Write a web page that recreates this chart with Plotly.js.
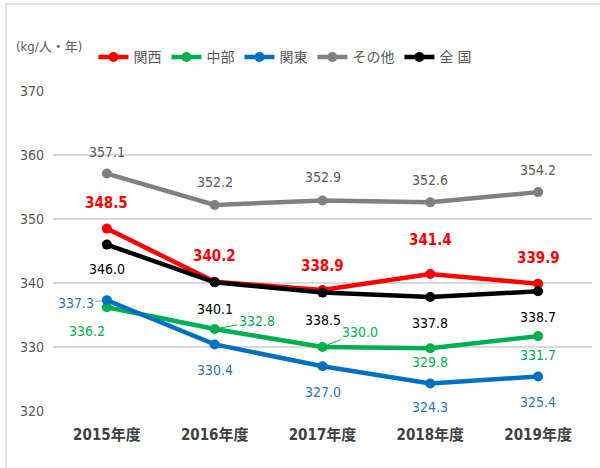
<!DOCTYPE html>
<html>
<head>
<meta charset="utf-8">
<script src="https://cdn.plot.ly/plotly-3.0.1.min.js"></script>
<style>html,body{margin:0;padding:0;background:#fff;}#chart{width:600px;height:468px;}</style>
</head>
<body>
<div id="chart"></div>
<script>
var years = ["2015年度", "2016年度", "2017年度", "2018年度", "2019年度"];
var kansai = [348.5, 340.2, 338.9, 341.4, 339.9];
var chubu = [336.2, 332.8, 330.0, 329.8, 331.7];
var kanto = [337.3, 330.4, 327.0, 324.3, 325.4];
var sonota = [357.1, 352.2, 352.9, 352.6, 354.2];
var zenkoku = [346.0, 340.1, 338.5, 337.8, 338.7];
var seriesNames = ["関西", "中部", "関東", "その他", "全 国"];
var yTicks = [320, 330, 340, 350, 360, 370];
var unitLabel = "(kg/人・年)";

var FONT = "'DejaVu Sans Condensed', 'Noto Sans CJK JP', sans-serif";
var series = [kansai, chubu, kanto, sonota, zenkoku];
var colors = ["#FF0000", "#00B050", "#0070C0", "#808080", "#000000"];
var labelColors = ["#FF0000", "#00B050", "#2E75B6", "#595959", "#000000"];

var traces = series.map(function (vals, i) {
  return {
    type: "scatter", mode: "lines+markers",
    x: years, y: vals, name: seriesNames[i],
    line: {color: colors[i], width: 4.5},
    marker: {color: colors[i], size: 10},
    hoverinfo: "none"
  };
});

// label offsets in pixels [dx, dy] per series per point (styling only)
var offsets = [
  [[0,-26],[0,-26],[0,-24],[0,-34],[0,-26]],
  [[-20,24],[42,-8],[37,-15],[0,14],[0,19]],
  [[-31,3],[0,26],[0,26],[0,24],[0,26]],
  [[0,-22],[0,-23],[0,-23],[0,-22],[0,-22]],
  [[0,24],[0,27],[0,27],[0,26],[0,26]]
];
var arrows = {"1-1": true, "1-2": true, "2-0": true};

var annotations = [];
series.forEach(function (vals, i) {
  vals.forEach(function (v, j) {
    var off = offsets[i][j];
    var key = i + "-" + j;
    var a = {
      xref: "x", yref: "y", x: years[j], y: v,
      text: v.toFixed(1),
      font: {family: FONT, size: 14, color: labelColors[i]},
      bgcolor: "rgba(0,0,0,0)"
    };
    if (i === 0) { a.text = "<b>" + v.toFixed(1) + "</b>"; a.font.size = 15; }
    if (arrows[key]) {
      a.showarrow = true; a.arrowhead = 0; a.arrowwidth = 1;
      a.arrowcolor = i === 2 ? "#A6A6A6" : "#00B050";
      a.ax = off[0]; a.ay = off[1]; a.standoff = 5;
    } else {
      a.showarrow = false; a.xshift = off[0]; a.yshift = -off[1];
    }
    annotations.push(a);
  });
});
annotations.push({
  xref: "paper", yref: "paper", x: -0.072, y: 1.138, xanchor: "left", yanchor: "middle",
  text: unitLabel, showarrow: false,
  font: {family: FONT, size: 13, color: "#595959"}
});

var layout = {
  width: 600, height: 468,
  margin: {l: 53, r: 8, t: 91, b: 57},
  paper_bgcolor: "#ffffff", plot_bgcolor: "#ffffff",
  showlegend: true,
  legend: {
    orientation: "h", x: 0.075, y: 1.105, xanchor: "left", yanchor: "middle",
    font: {family: FONT, size: 14, color: "#595959"},
    traceorder: "normal", itemwidth: 30, tracegroupgap: 0,
    bgcolor: "rgba(0,0,0,0)"
  },
  xaxis: {
    type: "category", range: [-0.5, 4.5], showgrid: false, zeroline: false,
    showline: false, ticks: "", ticklabelstandoff: 13,
    tickfont: {family: FONT, size: 15, color: "#404040", weight: "bold"},
    fixedrange: true
  },
  yaxis: {
    range: [320, 370], tickvals: yTicks, ticktext: yTicks.map(String),
    showgrid: true, gridcolor: "#D9D9D9", gridwidth: 1.5, zeroline: false,
    showline: false, ticks: "", ticklabelstandoff: 8,
    tickfont: {family: FONT, size: 14, color: "#595959"},
    fixedrange: true
  },
  shapes: [{
    type: "rect", xref: "paper", yref: "paper",
    x0: -0.087, x1: 1.2, y0: -0.25, y1: 1.272,
    line: {color: "#D9D9D9", width: 1.5}, fillcolor: "rgba(0,0,0,0)", layer: "below"
  }],
  annotations: annotations
};

Plotly.newPlot("chart", traces, layout, {displayModeBar: false, staticPlot: true});
</script>
</body>
</html>
